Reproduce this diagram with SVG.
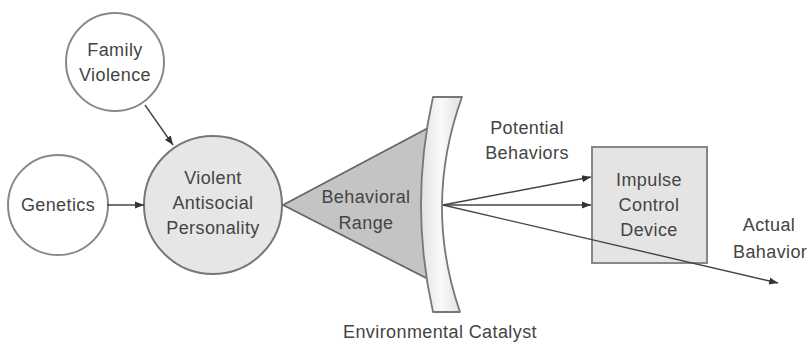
<svg xmlns="http://www.w3.org/2000/svg" width="807" height="342" viewBox="0 0 807 342">
  <style>
    .lbl { font-family: "Liberation Sans", Arial, sans-serif; font-size: 18px; letter-spacing: 0.4px; fill: #444; text-anchor: middle; }
    .plain { fill: #ffffff; stroke: #888; stroke-width: 2; }
    .edge { stroke: #444; stroke-width: 1.4; fill: none; marker-end: url(#arrow); }
  </style>
  <defs>
    <marker id="arrow" viewBox="0 0 10 10" refX="10" refY="5" markerWidth="9" markerHeight="9" markerUnits="userSpaceOnUse" orient="auto">
      <path d="M0,1 L10,5 L0,9 z" fill="#333"/>
    </marker>
    <linearGradient id="lensFill" x1="0" y1="0" x2="1" y2="0">
      <stop offset="0" stop-color="#e2e2e2"/>
      <stop offset="0.5" stop-color="#fafafa"/>
      <stop offset="1" stop-color="#dedede"/>
    </linearGradient>
  </defs>

  <rect width="807" height="342" fill="#ffffff"/>

  <g id="family-violence">
    <circle class="plain" cx="115" cy="62" r="49"/>
    <text class="lbl" x="115" y="56">Family</text>
    <text class="lbl" x="115" y="81">Violence</text>
  </g>

  <g id="genetics">
    <circle class="plain" cx="58" cy="205" r="50"/>
    <text class="lbl" x="58" y="211">Genetics</text>
  </g>

  <g id="personality">
    <circle cx="213" cy="205" r="69" fill="#e6e6e6" stroke="#777" stroke-width="2"/>
    <text class="lbl" x="213" y="184">Violent</text>
    <text class="lbl" x="213" y="209">Antisocial</text>
    <text class="lbl" x="213" y="234">Personality</text>
  </g>

  <g id="behavioral-range">
    <path d="M283,205 L428,128 L432,281 Z" fill="#c4c4c4" stroke="#666" stroke-width="1.8" stroke-linejoin="round"/>
    <text class="lbl" x="366" y="203">Behavioral</text>
    <text class="lbl" x="366" y="229">Range</text>
  </g>

  <g id="environmental-catalyst">
    <path d="M433,97 L462,97 Q423,205 460,312 L433,312 Q409,205 433,97 Z" fill="url(#lensFill)" stroke="#777" stroke-width="1.8" stroke-linejoin="round"/>
    <text class="lbl" x="440" y="338">Environmental Catalyst</text>
  </g>

  <g id="impulse-control">
    <rect x="592" y="147" width="115" height="116" fill="#e4e4e4" stroke="#888" stroke-width="2"/>
    <text class="lbl" x="649" y="186">Impulse</text>
    <text class="lbl" x="649" y="211">Control</text>
    <text class="lbl" x="649" y="236">Device</text>
  </g>

  <g id="potential-behaviors">
    <text class="lbl" x="527" y="134">Potential</text>
    <text class="lbl" x="527" y="159">Behaviors</text>
  </g>

  <g id="actual-behavior">
    <text class="lbl" x="769" y="231">Actual</text>
    <text class="lbl" x="733" y="258" style="text-anchor:start">Bahavior</text>
  </g>

  <g id="connectors">
    <line class="edge" x1="145" y1="105" x2="173" y2="145"/>
    <line class="edge" x1="107" y1="205" x2="144" y2="205"/>
    <line class="edge" x1="443" y1="205" x2="591" y2="177"/>
    <line class="edge" x1="443" y1="205" x2="591" y2="205"/>
    <line class="edge" x1="443" y1="205" x2="778" y2="283"/>
  </g>
</svg>
